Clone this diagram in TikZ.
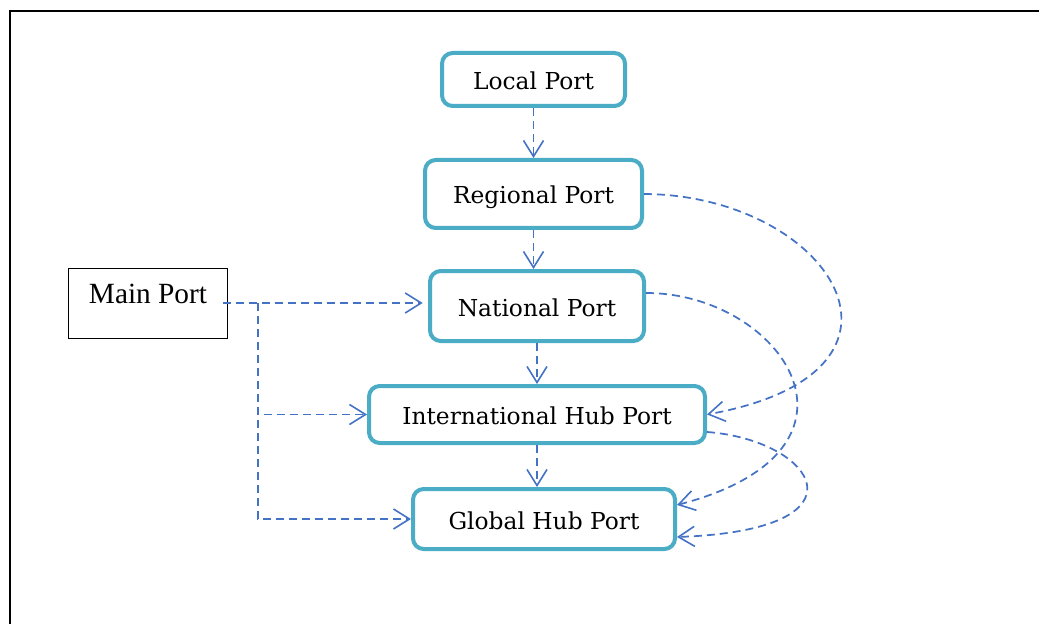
\documentclass[tikz,border=0pt]{standalone}
\usepackage{fontspec}
\setmainfont{DejaVu Serif}
\newfontfamily\timesfont{Liberation Serif}
\usetikzlibrary{arrows.meta,calc}
\definecolor{portcyan}{RGB}{75,172,198}
\definecolor{linkblue}{RGB}{68,114,196}
\tikzset{
  port/.style 2 args={draw=portcyan, line width=3pt, rounded corners=8pt,
    fill=white, minimum width=#1*0.75pt, minimum height=#2*0.75pt,
    inner sep=0pt, font=\fontsize{17.5}{20}\selectfont,
    text height=1.5em, text depth=0pt},
  link/.style={draw=linkblue, line width=1.3pt, dash pattern=on 6pt off 3.75pt,
    -{Straight Barb[length=12pt,width=15pt,line width=1.2pt]}},
}
\begin{document}
\begin{tikzpicture}[x=0.75pt,y=-0.75pt]
\useasboundingbox (0,0) rectangle (1039,624);
% outer frame (left and top edges)
\draw[line width=1.5pt] (9.5,624) -- (9.5,11) -- (1039,11);

% port hierarchy
\node[port={183}{53}] (loc)  at (533.5,79.5) {Local Port};
\node[port={217}{68}] (reg)  at (533.5,194)  {Regional Port};
\node[port={214}{70}] (nat)  at (537,306)    {National Port};
\node[port={336}{57}] (intl) at (537,414.5)  {International Hub Port};
\node[port={262}{60}] (glob) at (544,519)    {Global Hub Port};

% main port box with its label set high
\node[draw, line width=0.75pt, minimum width=159*0.75pt, minimum height=70*0.75pt,
  inner sep=0pt] (main) at (147.5,303) {};
\node[font=\timesfont\fontsize{22}{24}\selectfont, inner sep=0pt] (mainlbl) at (148,294) {Main Port};

% vertical links
\draw[link] (loc.south)  -- (reg.south |- reg.north);
\draw[link] (reg.south)  -- (reg.south |- nat.north);
\draw[link] (nat.south)  -- (nat.south |- intl.north);
\draw[link] (intl.south) -- (intl.south |- glob.north);

% links from the main port
\coordinate (br) at (258,303);
\draw[link, shorten >=4pt] ($(main.east)+(-5,0)$) -- (main.east -| nat.west);
\draw[link] (br) |- (intl.west);
\draw[link] (br) |- (glob.west);

% bypass links on the right
\draw[link] (reg.east) .. controls +(185,1) and +(238,-43) .. (intl.east);
\draw[link] ($(nat.east)+(0,-13)$) .. controls +(136,0) and +(212,-55) .. ($(glob.east)+(0,-14)$);
\draw[link] ($(intl.east)+(0,17.5)$) .. controls +(108,8) and +(198,-7) .. ($(glob.east)+(0,18)$);
\end{tikzpicture}
\end{document}
